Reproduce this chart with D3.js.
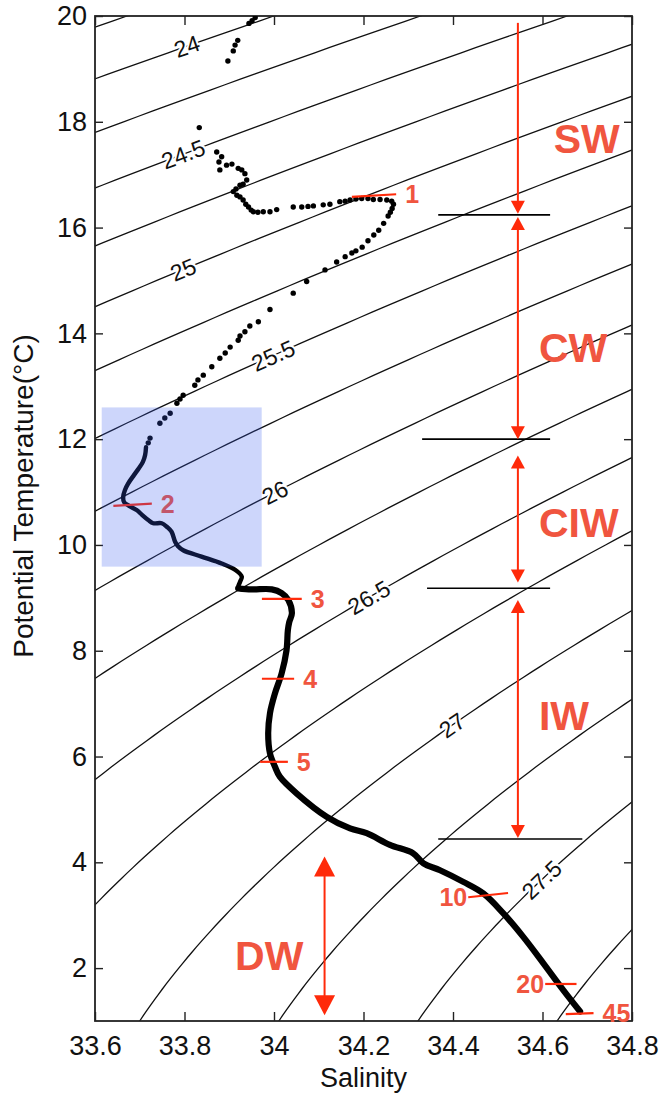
<!DOCTYPE html>
<html>
<head>
<meta charset="utf-8">
<script src="https://cdn.jsdelivr.net/npm/d3@7"></script>
<style>
  body { margin: 0; background: #fff; }
  text { font-family: "Liberation Sans", Arial, Helvetica, sans-serif; }
</style>
</head>
<body>
<svg id="chart" width="664" height="1097"></svg>
<script>
// ---- axes ----
const xTicks = [33.6, 33.8, 34, 34.2, 34.4, 34.6, 34.8];
const xTickLabels = ["33.6", "33.8", "34", "34.2", "34.4", "34.6", "34.8"];
const yTicks = [2, 4, 6, 8, 10, 12, 14, 16, 18, 20];
const yTickLabels = ["2", "4", "6", "8", "10", "12", "14", "16", "18", "20"];

// ---- isopycnals (sigma-theta, kg/m^3 - 1000) ----
const sigmaLevels = [23.75, 24, 24.25, 24.5, 24.75, 25, 25.25, 25.5, 25.75, 26, 26.25, 26.5, 26.75, 27, 27.25, 27.5, 27.75];
const sigmaLabelValues = [24, 24.5, 25, 25.5, 26, 26.5, 27, 27.5];
const sigmaLabelText = ["24", "24.5", "25", "25.5", "26", "26.5", "27", "27.5"];
const sigmaLabelSal = [33.805, 33.797, 33.797, 33.998, 34.002, 34.212, 34.398, 34.598];

// ---- CTD profile: sparse upper samples (dots) ----
const dotSal = [33.958, 33.951, 33.944, 33.919, 33.913, 33.909, 33.897, 33.833, 33.872, 33.883,
  33.877, 33.879, 33.894, 33.906, 33.920, 33.928, 33.935, 33.939, 33.931, 33.924,
  33.915, 33.909, 33.917, 33.924, 33.931, 33.937, 33.943, 33.949, 33.954, 33.964,
  33.976, 33.991, 34.006, 34.043, 34.062, 34.076, 34.088, 34.110, 34.125, 34.147,
  34.159, 34.170, 34.183, 34.196, 34.210, 34.222, 34.237, 34.252, 34.263, 34.267,
  34.264, 34.260, 34.255, 34.245, 34.234, 34.223, 34.210, 34.197, 34.183, 34.174,
  34.159, 34.140, 34.114, 34.073, 34.043, 33.991, 33.965, 33.946, 33.935, 33.924,
  33.920, 33.902, 33.891, 33.879, 33.861, 33.842, 33.830, 33.823, 33.797, 33.790,
  33.783, 33.768, 33.756, 33.745, 33.723, 33.719];
const dotTheta = [19.97, 19.91, 19.86, 19.54, 19.45, 19.34, 19.15, 17.89, 17.43, 17.34,
  17.24, 17.09, 17.18, 17.20, 17.12, 17.09, 17.02, 16.90, 16.82, 16.80,
  16.73, 16.68, 16.61, 16.58, 16.52, 16.44, 16.39, 16.33, 16.30, 16.29,
  16.30, 16.30, 16.34, 16.39, 16.39, 16.40, 16.41, 16.43, 16.44, 16.49,
  16.50, 16.52, 16.54, 16.55, 16.55, 16.53, 16.53, 16.52, 16.50, 16.44,
  16.36, 16.29, 16.22, 16.08, 15.95, 15.86, 15.75, 15.63, 15.56, 15.52,
  15.45, 15.35, 15.20, 14.98, 14.76, 14.45, 14.22, 14.14, 14.03, 13.95,
  13.87, 13.74, 13.63, 13.53, 13.37, 13.21, 13.12, 13.02, 12.83, 12.76,
  12.68, 12.49, 12.40, 12.30, 12.02, 11.93];

// ---- CTD profile: dense lower samples (continuous trace) ----
const lineSal = [33.714, 33.712, 33.707, 33.698, 33.687, 33.674, 33.667, 33.663, 33.665, 33.676,
  33.693, 33.705, 33.719, 33.730, 33.749, 33.761, 33.771, 33.779, 33.785, 33.797,
  33.838, 33.883, 33.913, 33.928, 33.924, 33.920, 33.950, 33.995, 34.017, 34.032,
  34.040, 34.034, 34.031, 34.028, 34.017, 34.002, 33.991, 33.987, 33.991, 34.002,
  34.013, 34.051, 34.118, 34.170, 34.207, 34.259, 34.311, 34.334, 34.371, 34.423,
  34.468, 34.512, 34.557, 34.602, 34.646, 34.684];
const lineTheta = [11.85, 11.70, 11.57, 11.45, 11.32, 11.16, 11.04, 10.91, 10.81, 10.74,
  10.66, 10.57, 10.47, 10.41, 10.41, 10.34, 10.25, 10.06, 9.98, 9.90,
  9.78, 9.65, 9.53, 9.40, 9.30, 9.18, 9.16, 9.16, 9.09, 8.96,
  8.71, 8.54, 8.39, 8.01, 7.57, 7.19, 6.82, 6.44, 6.06, 5.81,
  5.62, 5.30, 4.86, 4.64, 4.55, 4.33, 4.17, 3.98, 3.85, 3.63,
  3.41, 3.04, 2.59, 2.09, 1.59, 1.18];

// ---- depth markers (m) ----
const depthLabels = ["1", "2", "3", "4", "5", "10", "20", "45"];
const depthSalFrom = [34.174, 33.641, 33.973, 33.973, 33.969, 34.434, 34.606, 34.652];
const depthSalTo = [34.273, 33.727, 34.062, 34.045, 34.031, 34.523, 34.676, 34.714];
const depthThetaFrom = [16.58, 10.74, 8.98, 7.47, 5.90, 3.34, 1.70, 1.13];
const depthThetaTo = [16.63, 10.78, 8.98, 7.47, 5.90, 3.42, 1.70, 1.15];
const depthLabelSide = ["right", "right", "right", "right", "right", "left", "left", "right"];

// ---- water masses ----
const massNames = ["SW", "CW", "CIW", "IW", "DW"];
const massArrowSal = [34.545, 34.545, 34.545, 34.545, 34.113];
const massArrowTop = [19.87, 16.20, 11.69, 8.96, 4.11];
const massArrowBottom = [16.26, 12.00, 9.29, 4.46, 1.11];
const massTopHead = [false, true, true, true, true];
const massLabelSal = [34.625, 34.592, 34.592, 34.592, 33.913];
const massLabelTheta = [17.41, 13.46, 10.155, 6.50, 1.96];
const boundaryTheta = [16.24, 12.0, 9.18, 4.44];
const boundarySalFrom = [34.367, 34.331, 34.342, 34.367];
const boundarySalTo = [34.617, 34.617, 34.617, 34.689];

// ---- highlighted box ----
const boxSal = [33.615, 33.9725];
const boxTheta = [9.59, 12.60];

// ---- layout ----
const svg = d3.select("#chart");
const x = d3.scaleLinear().domain([33.6, 34.8]).range([95, 632]);
const y = d3.scaleLinear().domain([1, 20]).range([1021, 16]);
const [x0, x1] = x.range();
const [y1, y0] = y.range();

const RED = "#ff2a0a";
const LABEL_RED = "#f0553f";

// UNESCO EOS-80 density at surface pressure, returned as sigma
function sigma(S, T) {
  const rw = 999.842594 + 6.793952e-2 * T - 9.095290e-3 * T * T + 1.001685e-4 * T ** 3
    - 1.120083e-6 * T ** 4 + 6.536332e-9 * T ** 5;
  const A = 8.24493e-1 - 4.0899e-3 * T + 7.6438e-5 * T * T - 8.2467e-7 * T ** 3 + 5.3875e-9 * T ** 4;
  const B = -5.72466e-3 + 1.0227e-4 * T - 1.6546e-6 * T * T;
  const C = 4.8314e-4;
  return rw + A * S + B * S ** 1.5 + C * S * S - 1000;
}
function salFor(level, T) {
  let lo = 25, hi = 40;
  for (let i = 0; i < 60; i++) {
    const m = (lo + hi) / 2;
    if (sigma(m, T) < level) lo = m; else hi = m;
  }
  return (lo + hi) / 2;
}
function thetaFor(level, S) {
  let lo = -2, hi = 35;
  for (let i = 0; i < 60; i++) {
    const m = (lo + hi) / 2;
    if (sigma(S, m) > level) lo = m; else hi = m;
  }
  return (lo + hi) / 2;
}

svg.append("defs").append("clipPath").attr("id", "plotClip")
  .append("rect").attr("x", x0).attr("y", y0).attr("width", x1 - x0).attr("height", y1 - y0);

// isopycnal lines
const thetaSteps = d3.range(0.5, 21.01, 0.1);
const contourLine = d3.line().x(d => x(d[0])).y(d => y(d[1]));
const gContours = svg.append("g").attr("clip-path", "url(#plotClip)");
sigmaLevels.forEach(level => {
  const pts = thetaSteps.map(T => [salFor(level, T), T]);
  gContours.append("path").attr("d", contourLine(pts))
    .attr("fill", "none").attr("stroke", "#111").attr("stroke-width", 1.3);
});

// isopycnal labels along their lines
sigmaLabelValues.forEach((level, i) => {
  const S = sigmaLabelSal[i];
  const T = thetaFor(level, S);
  const dS = 0.004;
  const ax = x(S - dS), ay = y(thetaFor(level, S - dS));
  const bx = x(S + dS), by = y(thetaFor(level, S + dS));
  const ang = Math.atan2(by - ay, bx - ax) * 180 / Math.PI;
  svg.append("text")
    .attr("transform", `translate(${x(S)},${y(T)}) rotate(${ang})`)
    .attr("text-anchor", "middle").attr("dy", "0.36em")
    .attr("font-size", 23).attr("fill", "#111")
    .attr("stroke", "#fff").attr("stroke-width", 4).attr("paint-order", "stroke")
    .text(sigmaLabelText[i]);
});

// frame
svg.append("rect").attr("x", x0).attr("y", y0).attr("width", x1 - x0).attr("height", y1 - y0)
  .attr("fill", "none").attr("stroke", "#222").attr("stroke-width", 1.8);

// axes with inward ticks
const fmtX = d => xTickLabels[xTicks.indexOf(d)];
const fmtY = d => yTickLabels[yTicks.indexOf(d)];
const gx = svg.append("g").attr("transform", `translate(0,${y1})`)
  .call(d3.axisBottom(x).tickValues(xTicks).tickFormat(fmtX).tickSize(-9).tickSizeOuter(0).tickPadding(15));
const gy = svg.append("g").attr("transform", `translate(${x0},0)`)
  .call(d3.axisLeft(y).tickValues(yTicks).tickFormat(fmtY).tickSize(-8).tickSizeOuter(0).tickPadding(8));
const gxt = svg.append("g").attr("transform", `translate(0,${y0})`)
  .call(d3.axisTop(x).tickValues(xTicks).tickFormat("").tickSize(-9).tickSizeOuter(0));
const gyr = svg.append("g").attr("transform", `translate(${x1},0)`)
  .call(d3.axisRight(y).tickValues(yTicks).tickFormat("").tickSize(-8).tickSizeOuter(0));
[gx, gy, gxt, gyr].forEach(g => {
  g.select(".domain").remove();
  g.selectAll(".tick line").attr("stroke", "#222").attr("stroke-width", 1.4);
  g.selectAll("text").attr("font-size", 27).attr("fill", "#111")
    .attr("font-family", "'Liberation Sans', Arial, Helvetica, sans-serif");
});

// axis titles
svg.append("text").attr("x", (x0 + x1) / 2).attr("y", 1087).attr("text-anchor", "middle")
  .attr("font-size", 27).attr("fill", "#111").text("Salinity");
svg.append("text").attr("transform", "translate(33,496) rotate(-90)").attr("text-anchor", "middle")
  .attr("font-size", 28).attr("fill", "#111").text("Potential Temperature(°C)");

// profile trace
const gProf = svg.append("g").attr("clip-path", "url(#plotClip)");
const trace = lineSal.map((s, i) => [s, lineTheta[i]]);
const traceLine = d3.line().x(d => x(d[0])).y(d => y(d[1])).curve(d3.curveCatmullRom.alpha(0.5));
gProf.append("path").attr("d", traceLine(trace.filter(d => d[1] >= 9.15)))
  .attr("fill", "none").attr("stroke", "#000").attr("stroke-width", 4.4)
  .attr("stroke-linejoin", "round").attr("stroke-linecap", "round");
gProf.append("path").attr("d", traceLine(trace.filter(d => d[1] <= 9.18)))
  .attr("fill", "none").attr("stroke", "#000").attr("stroke-width", 6.2)
  .attr("stroke-linejoin", "round").attr("stroke-linecap", "round");
gProf.selectAll("circle.obs").data(dotSal.map((s, i) => [s, dotTheta[i]])).join("circle")
  .attr("class", "obs").attr("cx", d => x(d[0])).attr("cy", d => y(d[1])).attr("r", 2.7).attr("fill", "#000");

// depth markers
depthLabels.forEach((lab, i) => {
  const xa = x(depthSalFrom[i]), xb = x(depthSalTo[i]);
  const ya = y(depthThetaFrom[i]), yb = y(depthThetaTo[i]);
  svg.append("line").attr("x1", xa).attr("y1", ya).attr("x2", xb).attr("y2", yb)
    .attr("stroke", RED).attr("stroke-width", 2.2);
  const right = depthLabelSide[i] === "right";
  svg.append("text")
    .attr("x", right ? xb + 9 : xa - 1).attr("y", right ? yb : ya)
    .attr("dy", "0.36em").attr("text-anchor", right ? "start" : "end")
    .attr("font-size", 25).attr("font-weight", "bold").attr("fill", LABEL_RED).text(lab);
});

// highlighted range (translucent overlay)
svg.append("rect").attr("x", x(boxSal[0])).attr("y", y(boxTheta[1]))
  .attr("width", x(boxSal[1]) - x(boxSal[0])).attr("height", y(boxTheta[0]) - y(boxTheta[1]))
  .attr("fill", "rgb(55,91,239)").attr("fill-opacity", 0.25);

// water-mass boundaries
boundaryTheta.forEach((t, i) => {
  svg.append("line").attr("x1", x(boundarySalFrom[i])).attr("x2", x(boundarySalTo[i]))
    .attr("y1", y(t)).attr("y2", y(t)).attr("stroke", "#000").attr("stroke-width", 1.6);
});

// water-mass arrows
function head(xc, tipY, dir, len, half) {
  // dir = +1 points down, -1 points up
  return `M${xc},${tipY} L${xc - half},${tipY - dir * len} L${xc + half},${tipY - dir * len} Z`;
}
massNames.forEach((name, i) => {
  const xc = x(massArrowSal[i]);
  const yt = y(massArrowTop[i]), yb = y(massArrowBottom[i]);
  const big = name === "DW";
  const len = big ? 20 : 13, half = big ? 10.5 : 7;
  svg.append("line").attr("x1", xc).attr("x2", xc)
    .attr("y1", massTopHead[i] ? yt + len - 2 : yt).attr("y2", yb - len + 2)
    .attr("stroke", RED).attr("stroke-width", 2);
  svg.append("path").attr("d", head(xc, yb, 1, len, half)).attr("fill", RED);
  if (massTopHead[i]) svg.append("path").attr("d", head(xc, yt, -1, len, half)).attr("fill", RED);
  svg.append("text").attr("x", x(massLabelSal[i])).attr("y", y(massLabelTheta[i]))
    .attr("font-size", 41).attr("font-weight", "bold").attr("fill", LABEL_RED).text(name);
});
</script>
</body>
</html>
